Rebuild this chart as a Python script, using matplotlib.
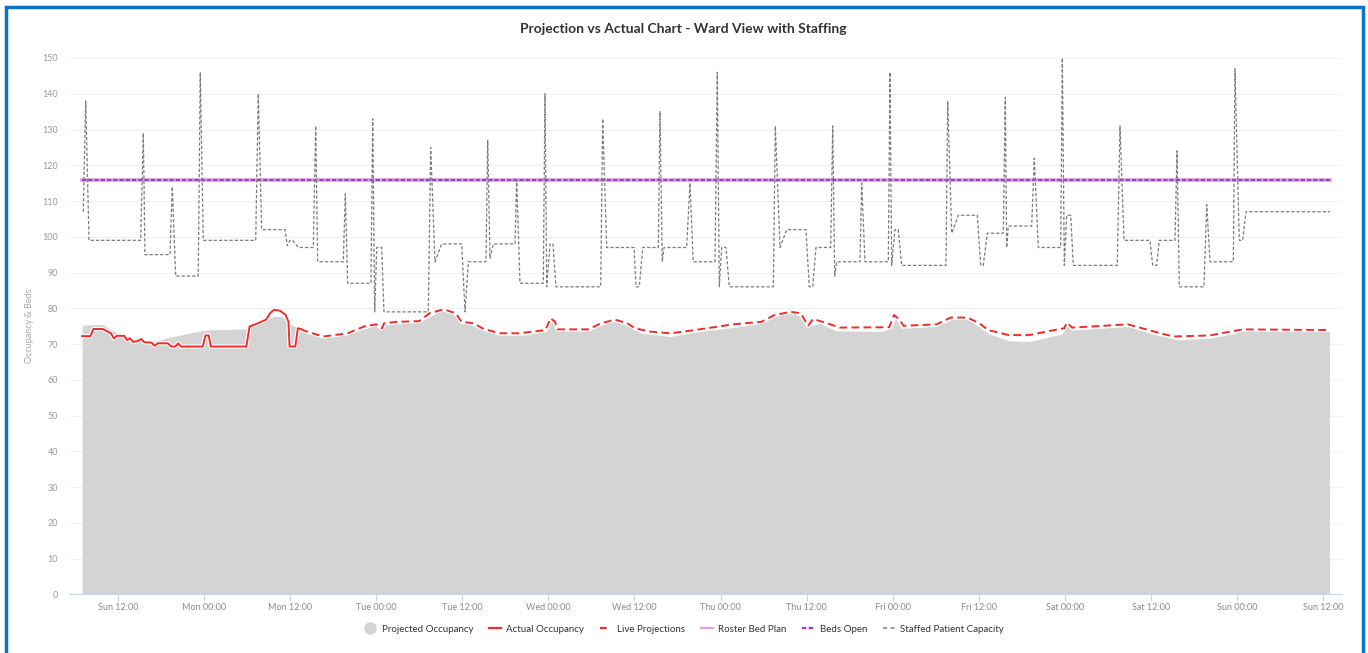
import matplotlib
matplotlib.use("Agg")
import matplotlib.pyplot as plt
from matplotlib.lines import Line2D
from matplotlib.patches import Rectangle

plt.rcParams['font.family'] = ['Lato', 'DejaVu Sans']

# x values are hours counted from Sunday 00:00 of the first day shown
tick_hours = [12, 24, 36, 48, 60, 72, 84, 96, 108, 120, 132, 144, 156, 168, 180]
tick_labels = ['Sun 12:00', 'Mon 00:00', 'Mon 12:00', 'Tue 00:00', 'Tue 12:00',
               'Wed 00:00', 'Wed 12:00', 'Thu 00:00', 'Thu 12:00', 'Fri 00:00',
               'Fri 12:00', 'Sat 00:00', 'Sat 12:00', 'Sun 00:00', 'Sun 12:00']

# Projected occupancy (grey area)
proj_hours = [7.0, 9.9, 11.0, 12.1, 13.8, 16.7, 19.5, 23.5, 24.9, 29.9, 30.6, 32.6,
              33.8, 34.9, 35.8, 37.2, 40.6, 44.0, 47.4, 49.1, 54.2, 57.1, 59.4, 62.2,
              65.1, 69.0, 71.9, 72.45, 73.3, 77.6, 81.0, 83.3, 85.0, 89.0, 92.4, 97.7,
              101.7, 104.6, 106.3, 107.8, 108.3, 109.8, 112.1, 118.4, 119.8, 120.4,
              121.2, 126.1, 128.4, 130.4, 133.3, 136.2, 139.0, 143.6, 144.3, 145.0,
              152.8, 156.2, 159.7, 164.2, 167.7, 168.8, 180.9]
proj_values = [75.3, 75.5, 74.0, 73.0, 71.6, 70.6, 72.0, 73.7, 74.0, 74.2, 75.5, 77.0,
               77.7, 77.7, 75.8, 74.4, 71.6, 72.8, 74.9, 75.3, 76.2, 79.5, 77.7, 74.4,
               72.5, 72.5, 73.9, 76.7, 73.7, 73.7, 76.5, 74.9, 73.0, 72.1, 73.3, 74.6,
               75.8, 78.6, 78.6, 77.0, 74.9, 75.8, 73.7, 73.5, 74.4, 77.2,
               74.4, 74.9, 77.0, 77.0, 73.0, 70.9, 70.7, 72.8, 75.1, 73.9,
               74.9, 72.8, 71.2, 71.6, 73.0, 73.7, 73.5]

# Actual occupancy (solid red)
actual_hours = [7.0, 8.15, 8.56, 9.87, 10.55, 11.0, 11.44, 11.86, 12.88, 13.25, 13.67,
                14.13, 14.69, 15.26, 15.67, 16.68, 17.09, 17.55, 18.97, 19.42, 19.99,
                20.39, 20.78, 23.81, 24.2, 24.66, 24.94, 29.89, 30.35, 31.49, 32.63,
                33.19, 33.76, 34.61, 35.35, 35.76, 35.92, 36.72, 37.07, 37.46]
actual_values = [72.2, 72.2, 74.2, 74.2, 73.5, 73.0, 71.6, 72.3, 72.3, 71.1, 71.6,
                 70.6, 70.8, 71.4, 70.5, 70.4, 69.5, 70.2, 70.2, 69.3, 69.3,
                 70.2, 69.3, 69.3, 72.4, 72.4, 69.3, 69.3, 74.9, 75.8, 76.8,
                 78.6, 79.6, 79.3, 78.2, 76.3, 69.3, 69.3, 74.4, 74.2]

# Live projections (dashed red)
live_hours = [37.46, 38.3, 40.6, 44.0, 46.3, 48.0, 48.8, 49.1, 50.8, 54.0, 55.4, 57.4,
              59.1, 59.9, 61.6, 62.8, 65.1, 67.9, 71.6, 72.3, 72.9, 73.3, 77.6, 79.3,
              81.3, 83.0, 84.1, 86.1, 89.0, 92.4, 97.7, 101.7, 103.5, 105.8, 107.2,
              108.2, 108.9, 110.9, 112.6, 119.5, 120.2, 121.0, 121.5, 126.1, 128.1,
              130.4, 132.1, 133.3, 136.2, 139.0, 142.5, 143.9, 144.3, 145.0, 152.8,
              153.9, 156.8, 159.1, 164.2, 167.7, 168.8, 180.9]
live_values = [74.2, 73.5, 72.1, 73.0, 74.9, 75.5, 74.4, 75.8, 76.2, 76.4, 78.6, 79.7,
               78.6, 76.2, 75.8, 74.4, 73.0, 73.0, 73.9, 77.2, 76.3, 74.1, 74.1, 75.8,
               76.8, 75.8, 74.4, 73.5, 73.0, 73.9, 75.5, 76.2, 78.1, 79.0, 78.6,
               75.1, 77.0, 75.8, 74.6, 74.7, 78.1, 76.7, 75.1, 75.5, 77.4,
               77.4, 75.8, 73.9, 72.5, 72.5, 73.9, 74.4, 76.0, 74.6, 75.5,
               74.9, 73.3, 72.1, 72.4, 73.7, 74.1, 73.9]

# Roster bed plan and beds open
bed_hours = [7.0, 180.9]
roster_values = [116, 116]
beds_open_values = [116, 116]

# Staffed patient capacity (dashed grey)
staff_hours = [7.16, 7.5, 7.96, 15.16, 15.53, 15.76, 19.25, 19.57, 20.04, 23.19, 23.47,
               23.89, 31.2, 31.56, 32.03, 35.28, 35.6, 35.98, 36.36, 37.14, 39.23,
               39.56, 39.84, 43.41, 43.69, 44.02, 47.27, 47.51, 47.79, 48.07, 48.76,
               49.08, 55.26, 55.59, 56.19, 57.13, 59.92, 60.38, 60.84, 63.3, 63.54,
               63.86, 64.32, 67.35, 67.58, 68.04, 71.29, 71.53, 71.77, 72.23, 72.64,
               73.06, 79.29, 79.57, 80.13, 83.94, 84.22, 84.68, 85.15, 87.33, 87.56,
               87.88, 88.12, 91.28, 91.74, 92.2, 95.23, 95.55, 95.83, 96.16, 96.76,
               97.22, 103.36, 103.64, 104.29, 105.22, 107.91, 108.37, 108.85, 109.31,
               111.36, 111.64, 111.92, 112.19, 115.44, 115.68, 116.14, 119.39, 119.62,
               119.86, 120.32, 120.78, 121.26, 127.43, 127.67, 128.23, 129.15, 131.8,
               132.27, 132.63, 133.19, 135.42, 135.7, 135.89, 136.12, 139.38, 139.74,
               140.3, 143.42, 143.65, 143.93, 144.26, 144.82, 145.18, 151.31, 151.69,
               152.25, 155.87, 156.25, 156.8, 157.17, 159.36, 159.64, 159.96, 163.4,
               163.78, 164.24, 167.49, 167.72, 168.32, 168.79, 169.25, 180.97]
staff_values = [107, 138, 99, 99, 129, 95, 95, 114, 89, 89, 146,
                99, 99, 140, 102, 102, 97.5, 99, 99, 97, 97,
                131, 93, 93, 112, 87, 87, 133, 79, 97, 97,
                79, 79, 125, 93, 98, 98, 79, 93, 93, 127,
                94, 98, 98, 116, 87, 87, 140, 86, 98, 98,
                86, 86, 133, 97, 97, 86, 86, 97, 97, 135,
                93, 97, 97, 115, 93, 93, 146, 86, 97, 97,
                86, 86, 131, 97, 102, 102, 86, 86, 97,
                97, 131, 89, 93, 93, 115, 93, 93, 146,
                92, 102, 102, 92, 92, 138, 101, 106, 106,
                92, 92, 101, 101, 139, 97, 103, 103, 122,
                97, 97, 150, 92, 106, 106, 92, 92, 131,
                99, 99, 92, 92, 99, 99, 124, 86, 86,
                109, 93, 93, 147, 99, 99, 107, 107]

fig = plt.figure(figsize=(13.68, 6.53), dpi=100)
ax = fig.add_axes([70 / 1368, 1 - 594.3 / 653, 1272 / 1368, 536.3 / 653])

ax.fill_between(proj_hours, proj_values, 0, color='#d4d4d4', lw=0, zorder=2)
ax.plot(bed_hours, roster_values, color='#dda0e8', lw=2.6, zorder=3)
ax.plot(bed_hours, beds_open_values, color='#9b3fbd', lw=1.5, dashes=(2, 1), zorder=4)
ax.plot(staff_hours, staff_values, color='#7c7c7c', lw=0.9, dashes=(2.6, 1.6), zorder=5)
ax.plot(actual_hours, actual_values, color='white', lw=3, zorder=6)
ax.plot(actual_hours, actual_values, color='#f42a2a', lw=1.4, zorder=7)
ax.plot(live_hours, live_values, color='white', lw=3, zorder=6)
ax.plot(live_hours, live_values, color='#f42a2a', lw=1.4, dashes=(4, 2.2), zorder=7)

ax.set_xlim(5.31, 182.64)
ax.set_ylim(0, 150)
ax.set_yticks(range(0, 151, 10))
ax.set_xticks(tick_hours)
ax.set_xticklabels(tick_labels)
ax.grid(axis='y', color='#f1f1f1', lw=0.8, zorder=0)
for s in ['top', 'right', 'left']:
    ax.spines[s].set_visible(False)
ax.spines['bottom'].set_color('#ccd6eb')
ax.spines['bottom'].set_linewidth(0.8)
ax.tick_params(axis='y', length=0, pad=8.5, labelsize=6.5, labelcolor='#9a9a9a')
ax.tick_params(axis='x', length=5, color='#ccd6eb', width=0.8, pad=1,
               labelsize=6.5, labelcolor='#8a8a8a')
ax.set_ylabel('Occupancy & Beds', fontsize=6.5, color='#a8a8a8', labelpad=6)

fig.text(683 / 1368, 1 - 29 / 653, 'Projection vs Actual Chart - Ward View with Staffing',
         ha='center', va='center', fontsize=10, fontweight='bold', color='#333333')

handles = [
    Line2D([], [], ls='none', marker='o', markersize=8, color='#d4d4d4'),
    Line2D([], [], color='#f42a2a', lw=1.6),
    Line2D([], [], color='#f42a2a', lw=1.6, dashes=(3, 2.5)),
    Line2D([], [], color='#dda0e8', lw=1.6),
    Line2D([], [], color='#9b3fbd', lw=1.6, dashes=(2, 1)),
    Line2D([], [], color='#8a8a8a', lw=1.2, dashes=(2.5, 2)),
]
names = ['Projected Occupancy', 'Actual Occupancy', 'Live Projections',
         'Roster Bed Plan', 'Beds Open', 'Staffed Patient Capacity']
fig.legend(handles, names, loc='center', bbox_to_anchor=(684 / 1368, 1 - 629 / 653),
           ncol=6, frameon=False, fontsize=7, handlelength=1.3, handletextpad=0.5,
           columnspacing=1.6, labelcolor='#333333')

fig.add_artist(Rectangle((6 / 1368, -0.05), 1357 / 1368, 1 - 7 / 653 + 0.05,
                         transform=fig.transFigure, fill=False, ec='#0b72c4', lw=2.5))

fig.savefig('out.png', dpi=100)
